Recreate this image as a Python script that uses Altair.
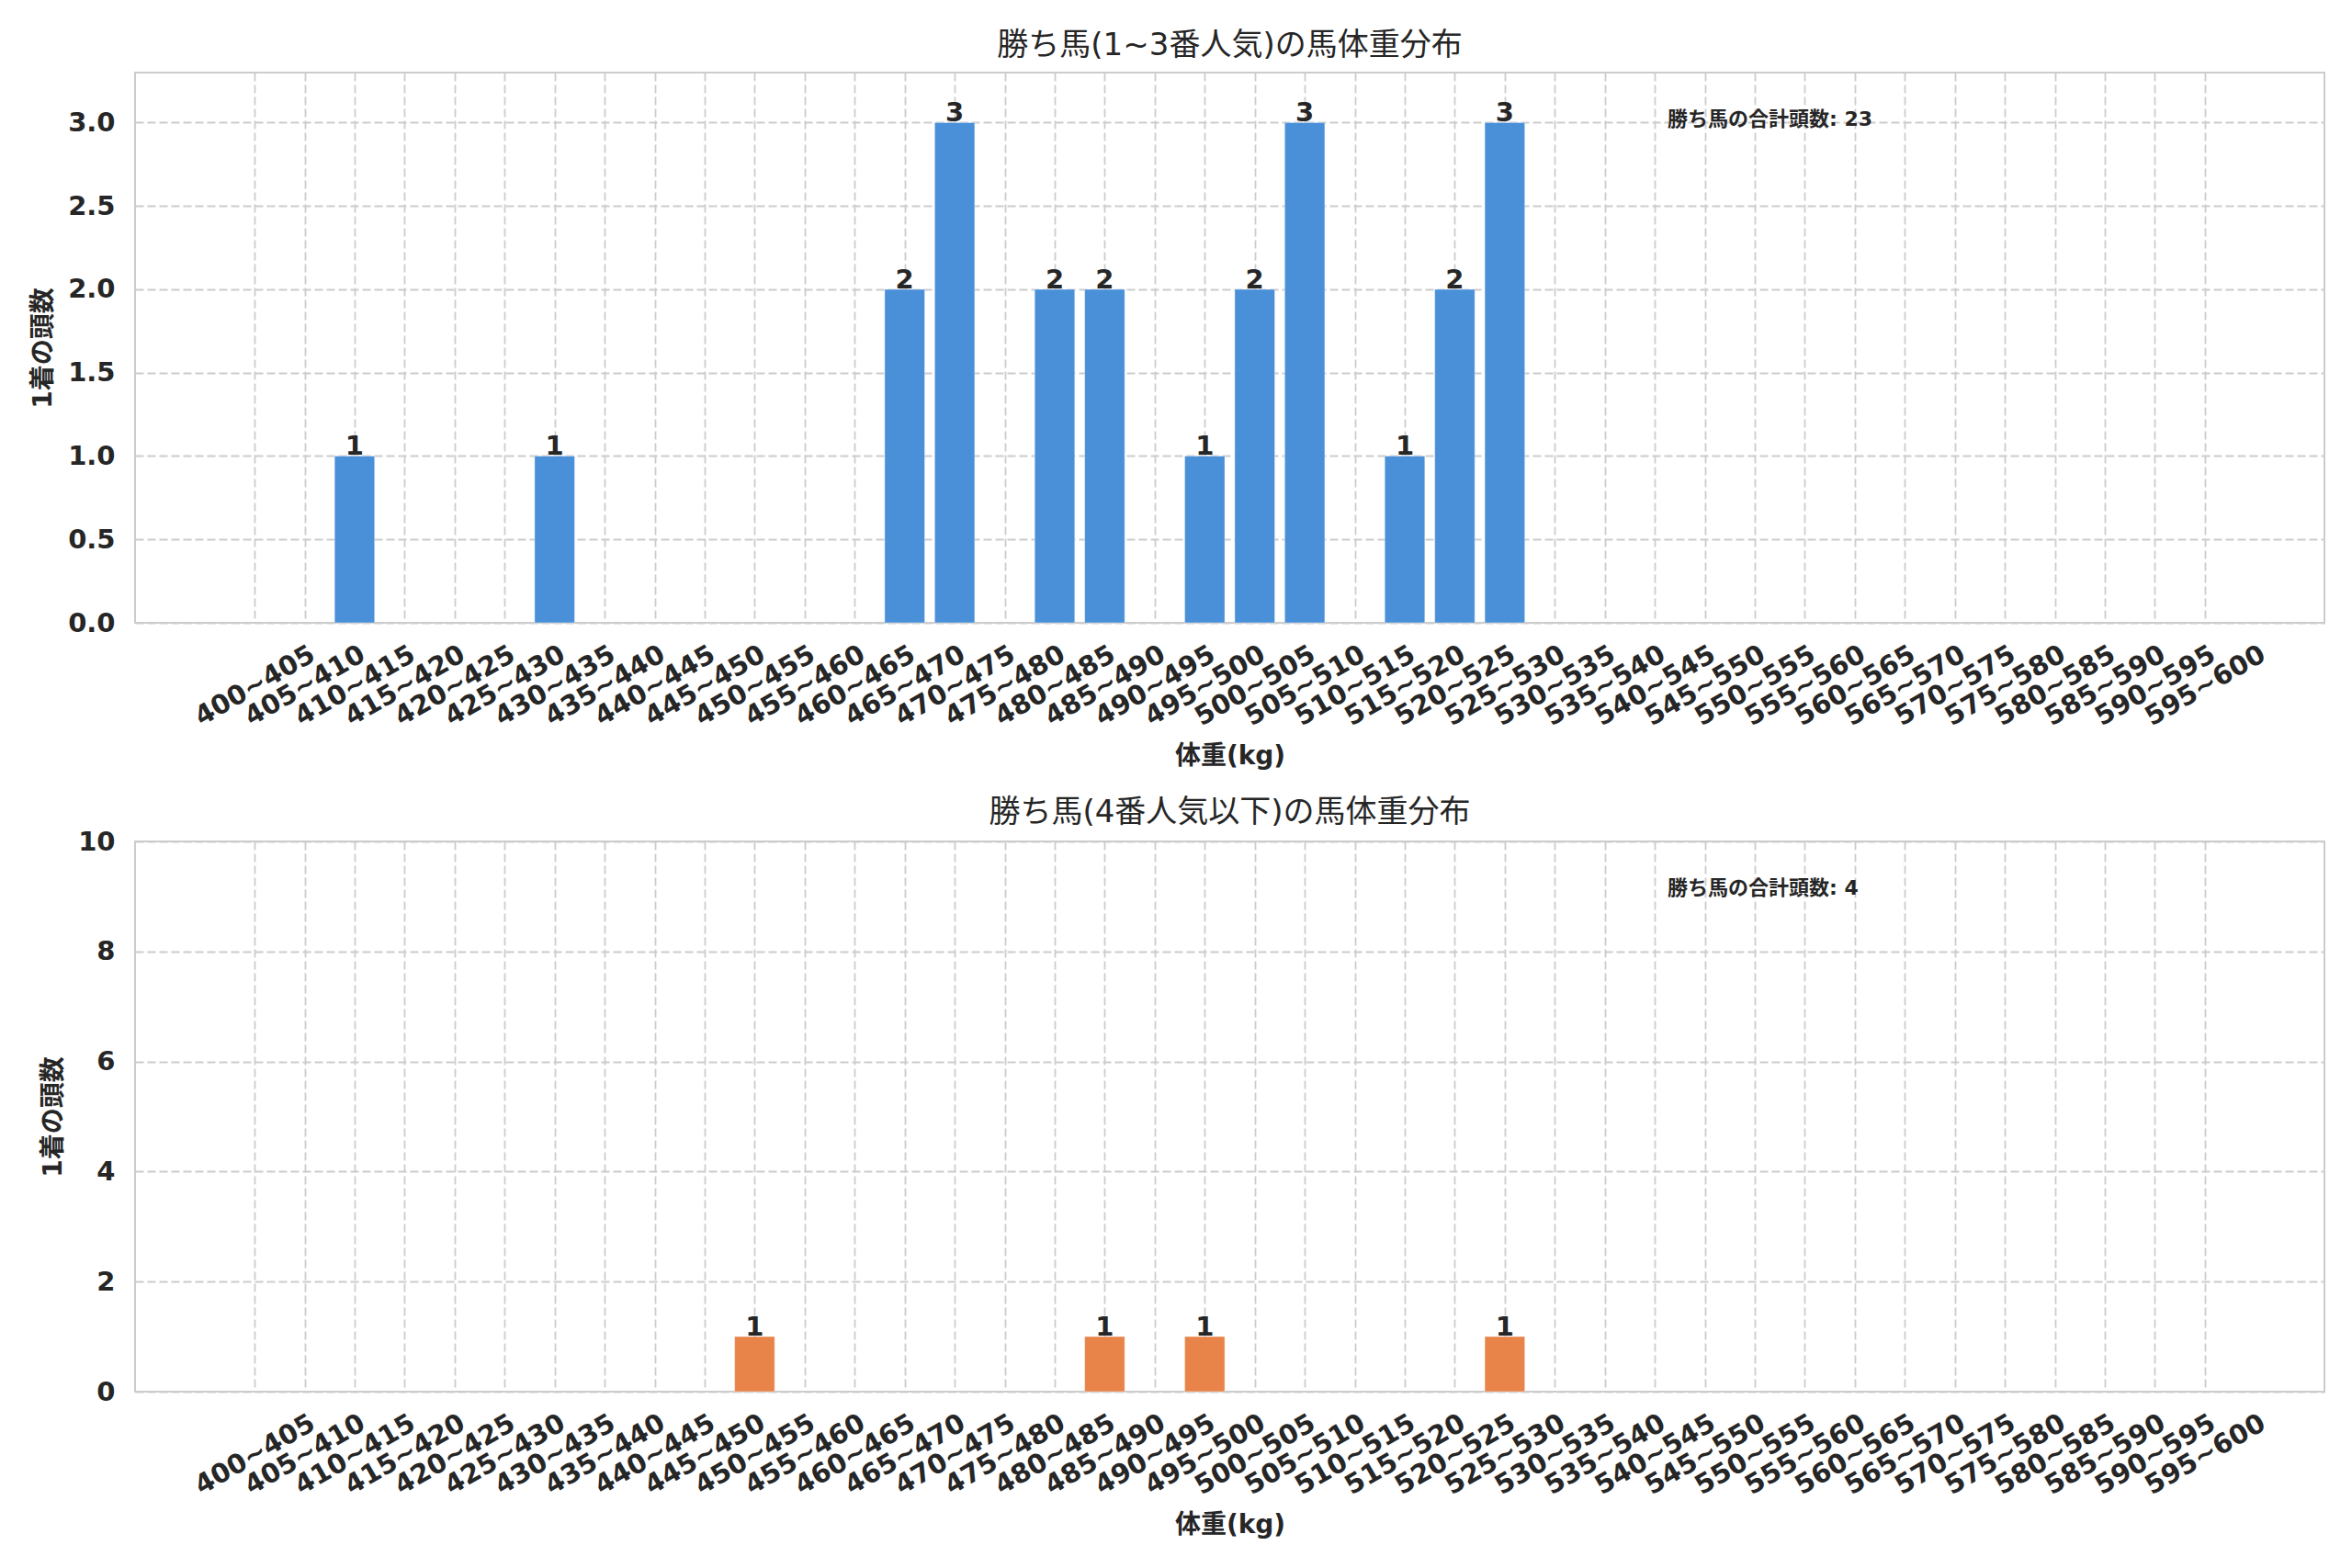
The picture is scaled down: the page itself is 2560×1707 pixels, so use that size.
import json
import altair as alt
import pandas as pd

# ---- data ----
bins = [f"{w}~{w + 5}" for w in range(400, 600, 5)]
top_counts = [0, 0, 1, 0, 0, 0, 1, 0, 0, 0,
              0, 0, 0, 2, 3, 0, 2, 2, 0, 1,
              2, 3, 0, 1, 2, 3, 0, 0, 0, 0,
              0, 0, 0, 0, 0, 0, 0, 0, 0, 0]
bottom_counts = [0, 0, 0, 0, 0, 0, 0, 0, 0, 0,
                 1, 0, 0, 0, 0, 0, 0, 1, 0, 1,
                 0, 0, 0, 0, 0, 1, 0, 0, 0, 0,
                 0, 0, 0, 0, 0, 0, 0, 0, 0, 0]
top_title = "勝ち馬(1~3番人気)の馬体重分布"
bottom_title = "勝ち馬(4番人気以下)の馬体重分布"
x_title = "体重(kg)"
y_title = "1着の頭数"
annot_label = "勝ち馬の合計頭数"
top_color = "#4a90d9"
bottom_color = "#e8844a"
top_yticks = [0, 0.5, 1.0, 1.5, 2.0, 2.5, 3.0]
bottom_yticks = [0, 2, 4, 6, 8, 10]

FONT = "DejaVu Sans, 'Noto Sans CJK JP', sans-serif"
TXT = "#262626"
W = 2383
H = 599
label_expr = json.dumps(bins) + "[datum.value]"


def panel(counts, color, title, ymax, yticks, yfmt, title_offset):
    df = pd.DataFrame({"idx": list(range(len(bins))), "bin": bins, "count": counts})
    df = df[df["count"] > 0]
    base = alt.Chart(df).transform_calculate(
        x0="datum.idx - 0.4", x1="datum.idx + 0.4"
    )
    xscale = alt.Scale(domain=[-2.39, 41.39], nice=False, zero=False)
    yscale = alt.Scale(domain=[0, ymax], nice=False)
    bars = base.mark_bar(color=color, stroke="#ffffff", strokeOpacity=0.35, strokeWidth=1).encode(
        x=alt.X("x0:Q", scale=xscale,
                axis=alt.Axis(values=list(range(len(bins))), labelExpr=label_expr,
                              labelAngle=-30, labelAlign="center", labelBaseline="middle",
                              labelPadding=68, labelOverlap=False, title=x_title,
                              titlePadding=14, grid=True)),
        x2="x1:Q",
        y=alt.Y("count:Q", scale=yscale,
                axis=alt.Axis(values=yticks, format=yfmt, title=y_title,
                              labelPadding=22, titlePadding=12, grid=True)),
        y2=alt.datum(0),
    )
    labels = base.mark_text(
        font=FONT, fontSize=29, fontWeight="bold", color=TXT,
        baseline="alphabetic", align="center", dy=-1,
    ).encode(
        x=alt.X("idx:Q", scale=xscale),
        y=alt.Y("count:Q", scale=yscale),
        text=alt.Text("count:Q", format="d"),
    )
    ann_df = pd.DataFrame({"t": [f"{annot_label}: {sum(counts)}"]})
    ann = alt.Chart(ann_df).mark_text(
        font=FONT, fontSize=22, fontWeight="bold", color=TXT,
        align="left", baseline="middle",
    ).encode(
        text="t:N",
        x=alt.value(0.70 * W),
        y=alt.value(0.085 * H),
    )
    return alt.layer(bars, labels, ann).properties(
        width=W, height=H,
        title=alt.TitleParams(title, fontSize=34, fontWeight="normal", font=FONT,
                              color=TXT, offset=title_offset, frame="group", anchor="middle"),
    )


top = panel(top_counts, top_color, top_title, 3.3, top_yticks, ".1f", 12)
bottom = panel(bottom_counts, bottom_color, bottom_title, 10, bottom_yticks, "d", 0)

chart = alt.vconcat(top, bottom, spacing=28).properties(
    padding={"left": 24, "top": 24, "right": 20, "bottom": 20},
    background="white",
).configure_view(
    stroke="#cccccc", strokeWidth=2,
).configure_axis(
    labelFont=FONT, labelFontSize=29, labelFontWeight="bold", labelColor=TXT,
    titleFont=FONT, titleFontSize=28, titleFontWeight="bold", titleColor=TXT,
    domain=False, ticks=False, tickSize=0,
    gridColor="#cccccc", gridDash=[9, 4], gridWidth=1.8,
)

chart.save("out.html", embed_options={"renderer": "svg", "actions": False})
